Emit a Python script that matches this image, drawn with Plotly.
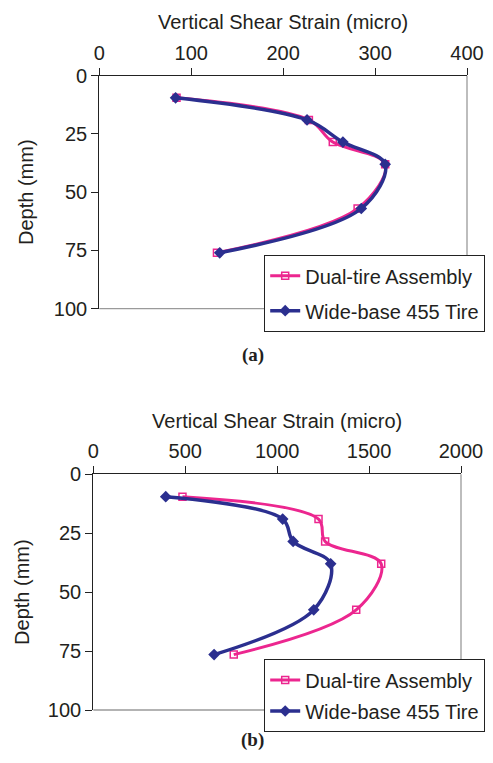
import plotly.graph_objects as go

# page has an 8px body margin: figure is offset by 8px
OFF = 8
W, H = 477, 745

# Panel (a)
depth_a = [9.5, 19, 28.5, 38, 57, 76]
dual_a = [84, 228, 254, 311, 281, 128]
wide_a = [83, 226, 265, 311, 285, 131]

# Panel (b)
depth_b = [9.5, 19, 28.5, 38, 57.5, 76.5]
dual_b = [485, 1225, 1261, 1566, 1430, 764]
wide_b = [394, 1030, 1087, 1291, 1199, 657]

x_ticks_a = [0, 100, 200, 300, 400]
x_ticks_b = [0, 500, 1000, 1500, 2000]
y_ticks = [0, 25, 50, 75, 100]

PINK = "#EC268F"
NAVY = "#2B2F8F"
FONT = "Liberation Sans, Arial, sans-serif"
TXT = "#231F20"

def fx(v):
    return (v - OFF) / W

def fy(v):
    return 1 - (v - OFF) / H

fig = go.Figure()

fig.add_trace(go.Scatter(x=dual_a, y=depth_a, name="Dual-tire Assembly", mode="lines+markers",
                         line=dict(color=PINK, width=3, shape="spline", smoothing=1),
                         marker=dict(symbol="square-open", size=7, color=PINK, line=dict(width=1.5)),
                         xaxis="x", yaxis="y", legend="legend", legendgroup="a1"))
fig.add_trace(go.Scatter(x=wide_a, y=depth_a, name="Wide-base 455 Tire", mode="lines+markers",
                         line=dict(color=NAVY, width=3.5, shape="spline", smoothing=1),
                         marker=dict(symbol="diamond", size=9, color=NAVY),
                         xaxis="x", yaxis="y", legend="legend", legendgroup="a2"))
fig.add_trace(go.Scatter(x=dual_b, y=depth_b, name="Dual-tire Assembly", mode="lines+markers",
                         line=dict(color=PINK, width=3, shape="spline", smoothing=1),
                         marker=dict(symbol="square-open", size=7, color=PINK, line=dict(width=1.5)),
                         xaxis="x2", yaxis="y2", legend="legend2", legendgroup="b1"))
fig.add_trace(go.Scatter(x=wide_b, y=depth_b, name="Wide-base 455 Tire", mode="lines+markers",
                         line=dict(color=NAVY, width=3.5, shape="spline", smoothing=1),
                         marker=dict(symbol="diamond", size=9, color=NAVY),
                         xaxis="x2", yaxis="y2", legend="legend2", legendgroup="b2"))

xa_dom = [fx(99.3), fx(467.0)]
ya_dom = [fy(308.7), fy(75.7)]
xb_dom = [fx(93.3), fx(461.0)]
yb_dom = [fy(710), fy(474.3)]

axis_common = dict(showgrid=False, zeroline=False, showline=True, linecolor="#222222", linewidth=1.3,
                   ticks="outside", ticklen=7, tickcolor="#222222", tickwidth=1.3, automargin=False,
                   ticklabeloverflow="allow",
                   tickfont=dict(family=FONT, size=20, color=TXT))

fig.update_layout(
    width=W, height=H, margin=dict(l=0, r=0, t=0, b=0),
    paper_bgcolor="white", plot_bgcolor="white",
    font=dict(family=FONT, size=20, color=TXT),
    xaxis=dict(domain=xa_dom, anchor="y", side="top", range=[0, 400], tickvals=x_ticks_a,
               title=dict(text="Vertical Shear Strain (micro)", standoff=6, font=dict(size=20)),
               **axis_common),
    yaxis=dict(domain=ya_dom, anchor="x", range=[100, 0], tickvals=y_ticks,
               title=dict(text="Depth (mm)", standoff=14, font=dict(size=20)), **axis_common),
    xaxis2=dict(domain=xb_dom, anchor="y2", side="top", range=[0, 2000], tickvals=x_ticks_b,
                title=dict(text="Vertical Shear Strain (micro)", standoff=6, font=dict(size=20)),
                **axis_common),
    yaxis2=dict(domain=yb_dom, anchor="x2", range=[100, 0], tickvals=y_ticks,
                title=dict(text="Depth (mm)", standoff=12, font=dict(size=20)), **axis_common),
    legend=dict(x=1.0, xanchor="right", y=fy(255), yanchor="top",
                bordercolor="#222222", borderwidth=1.2, bgcolor="white",
                font=dict(family=FONT, size=20, color=TXT), tracegroupgap=6, itemwidth=30),
    legend2=dict(x=1.0, xanchor="right", y=fy(659.3), yanchor="top",
                 bordercolor="#222222", borderwidth=1.2, bgcolor="white",
                 font=dict(family=FONT, size=20, color=TXT), tracegroupgap=2, itemwidth=30),
    showlegend=True,
)

# right and bottom frame (gray)
for xr, yr in [("x", "y"), ("x2", "y2")]:
    fig.add_shape(type="line", xref=f"{xr} domain", yref=f"{yr} domain", x0=1, x1=1, y0=0, y1=1,
                  line=dict(color="#9A9A9A", width=1.3), layer="below")
    fig.add_shape(type="line", xref=f"{xr} domain", yref=f"{yr} domain", x0=0, x1=1, y0=0, y1=0,
                  line=dict(color="#9A9A9A", width=1.3), layer="below")

fig.add_annotation(text="<b>(a)</b>", x=fx(253), y=fy(355), xref="paper", yref="paper",
                   showarrow=False, font=dict(family="Liberation Serif, Times New Roman, serif", size=19, color=TXT))
fig.add_annotation(text="<b>(b)</b>", x=fx(252), y=fy(753), xref="paper", yref="paper",
                   showarrow=False, font=dict(family="Liberation Serif, Times New Roman, serif", size=19, color=TXT))

fig.write_html("out.html")
